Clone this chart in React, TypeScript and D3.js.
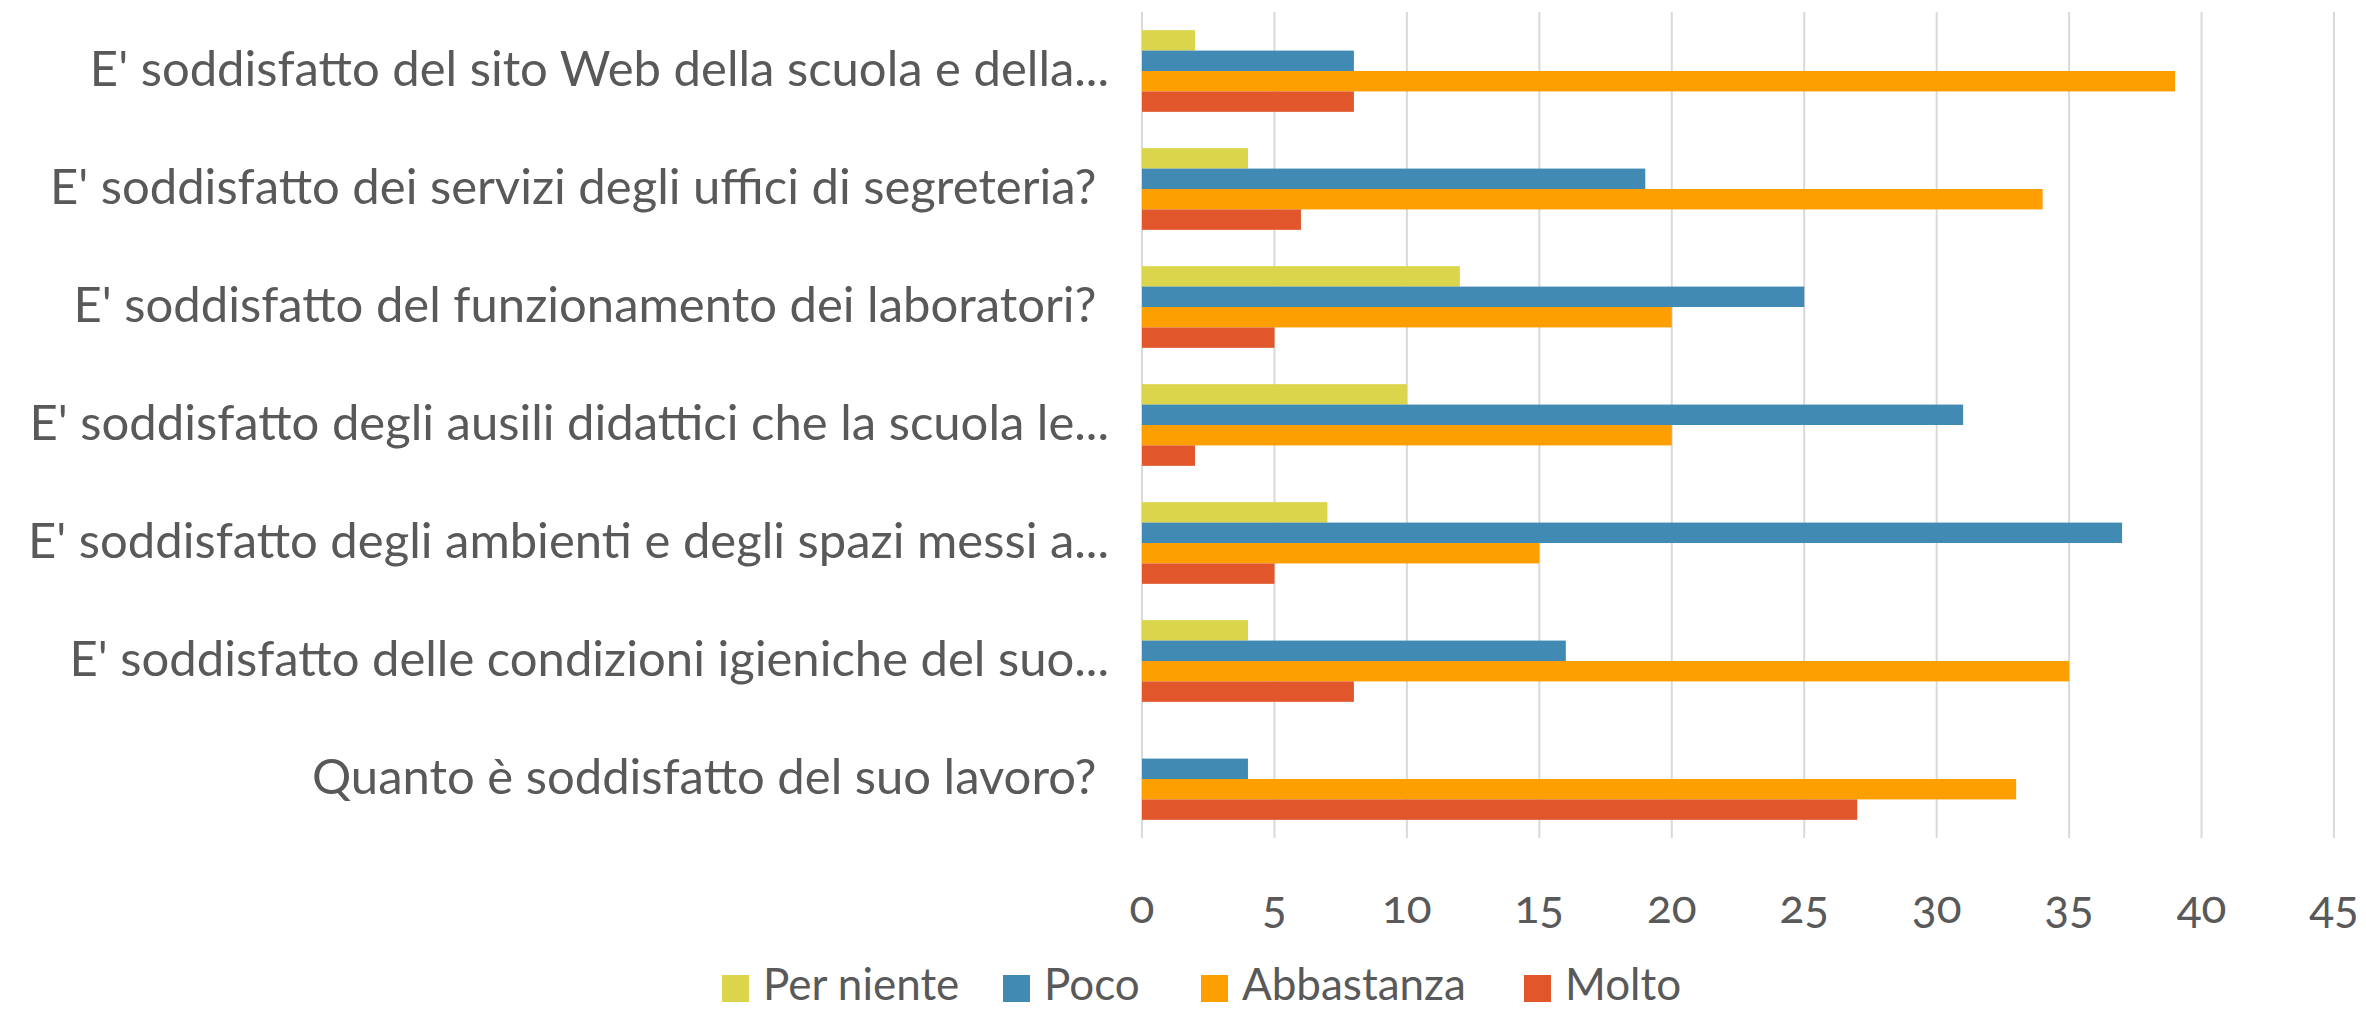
import React from "react";
import * as d3 from "d3";

const categories = [
  "E' soddisfatto del sito Web della scuola e della...",
  "E' soddisfatto dei servizi degli uffici di segreteria? ",
  "E' soddisfatto del funzionamento dei laboratori? ",
  "E' soddisfatto degli ausili didattici che la scuola le...",
  "E' soddisfatto degli ambienti e degli spazi messi a...",
  "E' soddisfatto delle condizioni igieniche del suo...",
  "Quanto è soddisfatto del suo lavoro? ",
];
const seriesNames = ["Per niente", "Poco", "Abbastanza", "Molto"];
const perNiente = [2, 4, 12, 10, 7, 4, 0];
const poco = [8, 19, 25, 31, 37, 16, 4];
const abbastanza = [39, 34, 20, 20, 15, 35, 33];
const molto = [8, 6, 5, 2, 5, 8, 27];
const seriesValues = [perNiente, poco, abbastanza, molto];
const colors = ["#DAD54A", "#418AB3", "#FE9F01", "#E1562A"];
const xTicks = [0, 5, 10, 15, 20, 25, 30, 35, 40, 45];

const W = 2366;
const H = 1009;
const FONT = "Lato, 'Open Sans', sans-serif";
const TEXT = "#595959";

export default function App() {
  const x = d3.scaleLinear().domain([0, 45]).range([1142, 2334]);
  const y = d3.scaleBand().domain(categories).range([12, 838]).paddingInner(0).paddingOuter(0);
  const groupH = y.bandwidth() * 0.692;
  const inner = d3.scaleBand().domain(seriesNames).range([0, groupH]);

  const legendItems = [
    { name: seriesNames[0], mx: 722 },
    { name: seriesNames[1], mx: 1003 },
    { name: seriesNames[2], mx: 1201 },
    { name: seriesNames[3], mx: 1524 },
  ];

  return (
    <svg width={W} height={H} style={{ position: "absolute", left: 0, top: 0, background: "#fff" }} fontFamily={FONT}>
      <rect x={0} y={0} width={W} height={H} fill="#fff" />
      {xTicks.map((t) => (
        <line key={t} x1={x(t)} x2={x(t)} y1={12} y2={838} stroke="#D9D9D9" strokeWidth={2} />
      ))}
      {categories.map((c, ci) => {
        const y0 = (y(c) as number) + (y.bandwidth() - groupH) / 2;
        return (
          <g key={c}>
            {seriesNames.map((s, si) => (
              <rect
                key={s}
                x={x(0)}
                y={y0 + (inner(s) as number)}
                width={x(seriesValues[si][ci]) - x(0)}
                height={inner.bandwidth()}
                fill={colors[si]}
              />
            ))}
            <text
              x={1109}
              y={(y(c) as number) + y.bandwidth() / 2}
              dy="0.3em"
              textAnchor="end"
              fontSize={49}
              fill={TEXT}
              style={{ whiteSpace: "pre" }}
            >
              {c}
            </text>
          </g>
        );
      })}
      {xTicks.map((t) => (
        <text key={t} x={x(t)} y={923} textAnchor="middle" fontSize={46} fill={TEXT}
          style={{ fontVariantNumeric: "oldstyle-nums" }}>
          {t}
        </text>
      ))}
      {legendItems.map((it, i) => (
        <g key={it.name}>
          <rect x={it.mx} y={975} width={27} height={27} fill={colors[i]} />
          <text x={it.mx + 41} y={1000} fontSize={44} fill={TEXT}>
            {it.name}
          </text>
        </g>
      ))}
    </svg>
  );
}
